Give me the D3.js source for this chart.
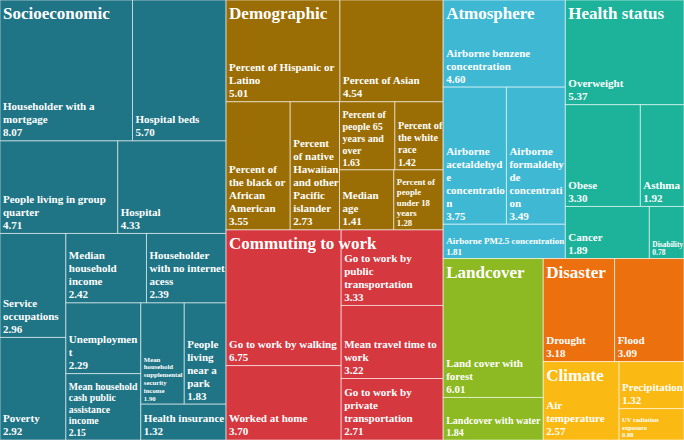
<!DOCTYPE html>
<html>
<head>
<meta charset="utf-8">
<script src="https://cdn.jsdelivr.net/npm/d3@7"></script>
<style>
  body { margin: 0; background: #fff; }
</style>
</head>
<body>
<div id="chart"></div>
<script>
// categories (top level groups)
var groups = ["Socioeconomic", "Demographic", "Commuting to work", "Atmosphere",
              "Health status", "Landcover", "Disaster", "Climate"];

var socioNames = ["Householder with a mortgage", "Hospital beds", "People living in group quarter",
  "Hospital", "Service occupations", "Poverty", "Median household income",
  "Householder with no internet acess", "Unemployment", "Mean household cash public assistance income",
  "Mean household supplemental security income", "People living near a park", "Health insurance"];
var socioValues = [8.07, 5.70, 4.71, 4.33, 2.96, 2.92, 2.42, 2.39, 2.29, 2.15, 1.90, 1.83, 1.32];

var demoNames = ["Percent of Hispanic or Latino", "Percent of Asian", "Percent of the black or African American",
  "Percent of native Hawaiian and other Pacific islander", "Percent of people 65 years and over",
  "Percent of the white race", "Median age", "Percent of people under 18 years"];
var demoValues = [5.01, 4.54, 3.55, 2.73, 1.63, 1.42, 1.41, 1.28];

var commuteNames = ["Go to work by walking", "Worked at home", "Go to work by public transportation",
  "Mean travel time to work", "Go to work by private transportation"];
var commuteValues = [6.75, 3.70, 3.33, 3.22, 2.71];

var atmoNames = ["Airborne benzene concentration", "Airborne acetaldehyde concentration",
  "Airborne formaldehyde concentration", "Airborne PM2.5 concentration"];
var atmoValues = [4.60, 3.75, 3.49, 1.81];

var healthNames = ["Overweight", "Obese", "Asthma", "Cancer", "Disability"];
var healthValues = [5.37, 3.30, 1.92, 1.89, 0.78];

var landNames = ["Land cover with forest", "Landcover with water"];
var landValues = [6.01, 1.84];

var disasterNames = ["Drought", "Flood"];
var disasterValues = [3.18, 3.09];

var climateNames = ["Air temperature", "Precipitation", "UV radiation exposure"];
var climateValues = [2.57, 1.32, 0.88];

var groupColors = ["#1f7585", "#9b6e05", "#d5383f", "#3fb9d3", "#1db39b", "#8dba22", "#ec700e", "#fbb913"];

var width = 684, height = 440;

var leafNames = [socioNames, demoNames, commuteNames, atmoNames, healthNames, landNames, disasterNames, climateNames];
var leafValues = [socioValues, demoValues, commuteValues, atmoValues, healthValues, landValues, disasterValues, climateValues];

var data = {
  name: "root",
  children: groups.map(function(g, i) {
    return {
      name: g,
      color: groupColors[i],
      children: leafNames[i].map(function(n, j) { return {name: n, value: leafValues[i][j]}; })
    };
  })
};

// squarified tiling, the aspect of a tile is judged with the horizontal side weighted
var hWeight = 1.28;
function aspect(w, h) {
  var r = hWeight * w / h;
  return Math.max(r, 1 / r);
}
function rowWorst(nodes, sum, value, dx, dy, dice) {
  var worst = 0;
  nodes.forEach(function(nd) {
    var a;
    if (dice) a = aspect(dx * nd.value / sum, dy * sum / value);
    else a = aspect(dx * sum / value, dy * nd.value / sum);
    if (a > worst) worst = a;
  });
  return worst;
}
function tile(parent, x0, y0, x1, y1) {
  var nodes = parent.children, n = nodes.length, value = parent.value, i0 = 0;
  while (i0 < n) {
    var dx = x1 - x0, dy = y1 - y0, dice = dx < dy;
    var best = Infinity, sum = 0, i1 = i0;
    for (var i = i0; i < n; i++) {
      var s = sum + nodes[i].value;
      var worst = rowWorst(nodes.slice(i0, i + 1), s, value, dx, dy, dice);
      if (worst > best) break;
      best = worst; sum = s; i1 = i + 1;
    }
    var row = {value: sum, children: nodes.slice(i0, i1)};
    if (dice) {
      var h = dy * sum / value;
      d3.treemapDice(row, x0, y0, x1, y0 + h);
      y0 += h;
    } else {
      var w = dx * sum / value;
      d3.treemapSlice(row, x0, y0, x0 + w, y1);
      x0 += w;
    }
    value -= sum; i0 = i1;
  }
}

var root = d3.hierarchy(data)
  .sum(function(d) { return d.value; })
  .sort(function(a, b) { return b.value - a.value; });

d3.treemap()
  .tile(tile)
  .size([width, height])(root);

var svg = d3.select("#chart").append("svg")
  .attr("width", width)
  .attr("height", height)
  .style("font-family", "'Liberation Serif', 'Times New Roman', serif")
  .style("font-weight", "bold");

// measuring text
var ctx = document.createElement("canvas").getContext("2d");
function tw(s, fs) {
  ctx.font = "bold " + fs + "px 'Liberation Serif'";
  return ctx.measureText(s).width;
}

var maxFont = 11;

// wrap words; at full size a word that is a little too long gets broken
function wrap(text, fs, maxW) {
  var words = text.split(" "), lines = [], cur = "";
  for (var i = 0; i < words.length; i++) {
    var w = words[i];
    var trial = cur ? cur + " " + w : w;
    if (tw(trial, fs) <= maxW) { cur = trial; continue; }
    if (cur) { lines.push(cur); cur = ""; }
    if (tw(w, fs) <= maxW) { cur = w; continue; }
    if (fs < maxFont || tw(w, fs) > maxW * 1.35) return null;
    var piece = "";
    for (var k = 0; k < w.length; k++) {
      if (tw(piece + w[k], fs) > maxW && piece) { lines.push(piece); piece = ""; }
      piece += w[k];
    }
    cur = piece;
  }
  if (cur) lines.push(cur);
  return lines;
}

function fitLabel(name, value, w, h) {
  var maxW = w - 3.5;
  for (var fs = maxFont; fs >= 4; fs -= 0.25) {
    var lines = wrap(name, fs, maxW);
    if (!lines) continue;
    var lh = fs * 1.18;
    var total = (lines.length + 1) * lh + 8;
    if (total <= h && tw(value, fs) <= maxW) return {fs: fs, lh: lh, lines: lines.concat([value])};
  }
  return null;
}

var leaves = root.leaves();

var cell = svg.selectAll("g.leaf")
  .data(leaves)
  .enter().append("g")
    .attr("class", "leaf")
    .attr("transform", function(d) { return "translate(" + d.x0 + "," + d.y0 + ")"; });

cell.append("rect")
  .attr("width", function(d) { return d.x1 - d.x0; })
  .attr("height", function(d) { return d.y1 - d.y0; })
  .attr("fill", function(d) { return d.parent.data.color; })
  .attr("stroke", "rgba(255,255,255,0.55)")
  .attr("stroke-width", 1);

cell.each(function(d) {
  var w = d.x1 - d.x0, h = d.y1 - d.y0;
  var lab = fitLabel(d.data.name, d.value.toFixed(2), w, h);
  if (!lab) return;
  var n = lab.lines.length;
  var lastY = h - lab.fs * 0.42;
  var t = d3.select(this).append("text")
    .attr("fill", "#fff")
    .style("font-size", lab.fs + "px");
  lab.lines.forEach(function(l, i) {
    t.append("tspan")
      .attr("x", 3)
      .attr("y", lastY - (n - 1 - i) * lab.lh)
      .text(l);
  });
});

// group titles
svg.selectAll("text.group")
  .data(root.children)
  .enter().append("text")
    .attr("class", "group")
    .attr("x", function(d) { return d.x0 + 3; })
    .attr("y", function(d) { return d.y0 + 19; })
    .attr("fill", "#fff")
    .style("font-size", "17px")
    .text(function(d) { return d.data.name; });
</script>
</body>
</html>
